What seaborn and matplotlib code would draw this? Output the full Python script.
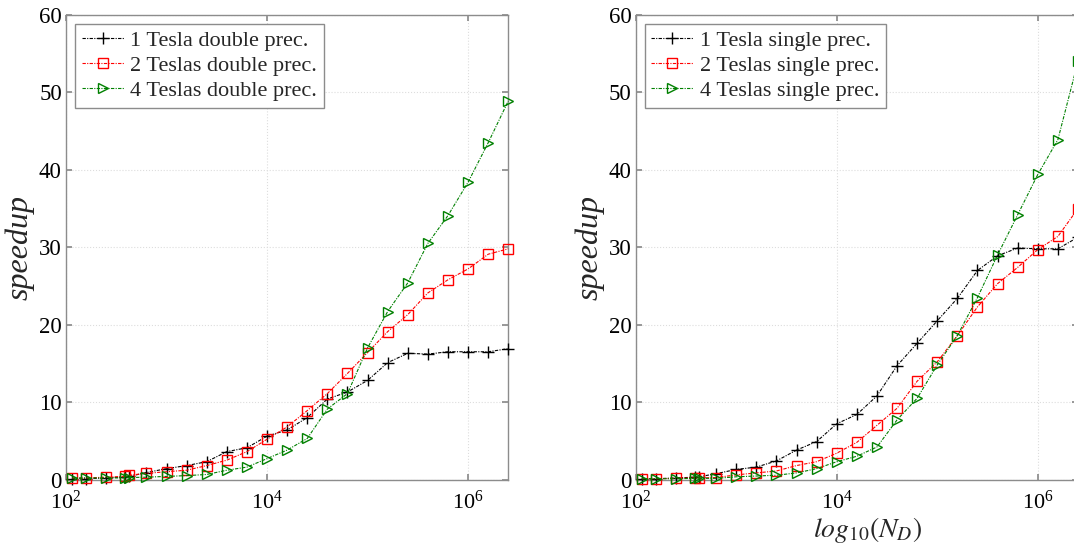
import matplotlib
matplotlib.use("Agg")
import matplotlib.pyplot as plt
import matplotlib.ticker as mticker
import seaborn as sns
import pandas as pd

# ---------------- data ----------------
n_d = [115, 158, 251, 389, 427, 631, 1000, 1585, 2512, 3981, 6310, 10000,
       15849, 25119, 39811, 63096, 100000, 158489, 251189, 398107, 630957,
       1000000, 1584893, 2511886]

double_1 = [0.1, 0.1, 0.2, 0.35, 0.4, 0.9, 1.4, 1.8, 2.3, 3.6, 4.1, 5.6,
            6.4, 8.0, 10.4, 11.3, 12.8, 15.1, 16.3, 16.2, 16.5, 16.5, 16.5, 16.9]
double_2 = [0.2, 0.2, 0.3, 0.4, 0.55, 0.8, 1.0, 1.2, 1.8, 2.5, 3.6, 5.2,
            6.8, 8.9, 11.1, 13.7, 16.4, 19.1, 21.3, 24.1, 25.8, 27.2, 29.1, 29.8]
double_4 = [0.2, 0.2, 0.2, 0.2, 0.25, 0.3, 0.4, 0.5, 0.65, 1.2, 1.6, 2.7,
            3.8, 5.3, 9.1, 11.1, 17.0, 21.7, 25.4, 30.5, 34.1, 38.4, 43.5, 48.9]

single_1 = [0.1, 0.1, 0.2, 0.3, 0.35, 0.75, 1.3, 1.6, 2.4, 3.8, 4.9, 7.2,
            8.4, 10.8, 14.7, 17.6, 20.5, 23.4, 27.0, 28.9, 29.9, 29.8, 29.8, 31.3]
single_2 = [0.1, 0.1, 0.15, 0.2, 0.2, 0.25, 0.6, 0.85, 1.1, 1.8, 2.3, 3.4,
            4.8, 7.0, 9.2, 12.7, 15.2, 18.6, 22.3, 25.3, 27.4, 29.7, 31.4, 35.0]
single_4 = [0.1, 0.1, 0.1, 0.15, 0.15, 0.15, 0.35, 0.45, 0.55, 0.85, 1.4, 2.3,
            3.0, 4.2, 7.7, 10.5, 14.8, 18.6, 23.5, 29.0, 34.2, 39.4, 43.9, 54.0]

labels_double = ["1 Tesla double prec.", "2 Teslas double prec.", "4 Teslas double prec."]
labels_single = ["1 Tesla single prec.", "2 Teslas single prec.", "4 Teslas single prec."]
y_ticks = [0, 10, 20, 30, 40, 50, 60]
x_ticks = [1e2, 1e4, 1e6]

# ---------------- style ----------------
sns.set_theme(style="white")
plt.rcParams["font.family"] = ["Liberation Serif", "DejaVu Serif"]
plt.rcParams["mathtext.fontset"] = "stix"

colors = ["black", "#ff0000", "#008000"]
markers = ["+", "s", ">"]
msizes = [8, 6.5, 7.5]
spine_col = "#8c8c8c"

fig = plt.figure(figsize=(10.74, 5.44), dpi=100)
ax_l = fig.add_axes([66 / 1074, 1 - 479.5 / 544, 442.3 / 1074, 464.5 / 544])
ax_r = fig.add_axes([635.7 / 1074, 1 - 479.5 / 544, 442.3 / 1074, 464.5 / 544])


def draw(ax, series, labels):
    for i, (vals, lab) in enumerate(zip(series, labels)):
        df = pd.DataFrame({"nd": n_d, "speedup": vals})
        sns.lineplot(data=df, x="nd", y="speedup", ax=ax, color=colors[i],
                     marker=markers[i], markersize=msizes[i],
                     markerfacecolor="none" if markers[i] != "+" else colors[i],
                     markeredgecolor=colors[i], markeredgewidth=1.0,
                     linestyle=(0, (3, 1.2, 1, 1.2)), linewidth=0.8,
                     label=lab, clip_on=False, zorder=3 + i)
    ax.set_xscale("log")
    ax.set_xlim(1e2, 10 ** 6.4)
    ax.set_ylim(0, 60)
    ax.set_xticks(x_ticks)
    ax.xaxis.set_minor_locator(mticker.NullLocator())
    ax.set_yticks(y_ticks)
    ax.grid(True, color="#dddddd", linestyle=":", linewidth=0.8)
    for s in ax.spines.values():
        s.set_color(spine_col)
        s.set_linewidth(1.0)
    ax.tick_params(axis="both", which="major", direction="in", length=4,
                   color=spine_col, top=True, right=True, bottom=True, left=True,
                   labelcolor="black")
    ax.tick_params(axis="y", pad=3, labelsize=16.5)
    ax.tick_params(axis="x", pad=8, labelsize=16)
    ax.set_xlabel("")
    ax.set_ylabel("speedup", fontsize=23, style="italic")
    ax.yaxis.set_label_coords(-0.07, 0.5)
    leg = ax.legend(loc="upper left", bbox_to_anchor=(0.0, 1.0), borderaxespad=0.4,
                    fontsize=16, frameon=True, fancybox=False, framealpha=1,
                    edgecolor=spine_col, handlelength=1.9, handletextpad=0.3,
                    labelspacing=0.2, borderpad=0.3)
    leg.get_frame().set_linewidth(1.0)


draw(ax_l, [double_1, double_2, double_4], labels_double)
draw(ax_r, [single_1, single_2, single_4], labels_single)

ax_r.set_xlabel(r"$log_{10}(N_D)$", fontsize=20)
ax_r.xaxis.set_label_coords(0.523, -0.077)

fig.savefig("out.png", dpi=100)
